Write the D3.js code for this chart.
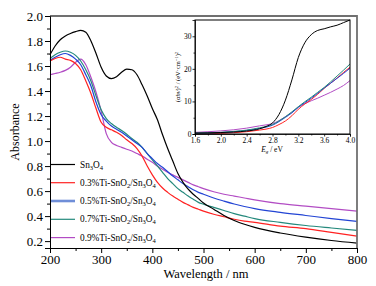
<!DOCTYPE html>
<html>
<head>
<meta charset="utf-8">
<script src="https://cdn.jsdelivr.net/npm/d3@7"></script>
<style>
  body { margin: 0; background: #fff; }
</style>
</head>
<body>
<svg id="chart" width="376" height="286"></svg>
<script>
// main spectra (absorbance vs wavelength)
let wavelength = [200, 210, 220, 230, 240, 250, 260, 270, 280, 290, 300, 310, 320, 330, 340, 350, 360, 370, 380, 390,
    400, 410, 420, 430, 440, 450, 460, 470, 480, 490, 500, 520, 540, 560, 580, 600, 650, 700, 750, 800];

let absSn3O4 = [1.69, 1.76, 1.81, 1.84, 1.86, 1.875, 1.885, 1.87, 1.80, 1.70, 1.59, 1.52, 1.50, 1.515, 1.55, 1.575, 1.57, 1.53, 1.45, 1.36,
    1.26, 1.17, 1.05, 0.94, 0.84, 0.74, 0.67, 0.615, 0.575, 0.54, 0.505, 0.455, 0.405, 0.365, 0.335, 0.31, 0.265, 0.232, 0.205, 0.184];
let abs03 = [1.64, 1.66, 1.67, 1.655, 1.645, 1.62, 1.57, 1.48, 1.38, 1.26, 1.15, 1.11, 1.09, 1.07, 1.045, 1.01, 0.98, 0.94, 0.88, 0.80,
    0.73, 0.67, 0.625, 0.59, 0.56, 0.535, 0.51, 0.49, 0.47, 0.455, 0.44, 0.415, 0.395, 0.375, 0.36, 0.35, 0.32, 0.30, 0.27, 0.24];
let abs05 = [1.645, 1.67, 1.69, 1.70, 1.685, 1.655, 1.61, 1.53, 1.44, 1.31, 1.21, 1.16, 1.12, 1.095, 1.07, 1.04, 1.01, 0.98, 0.95, 0.90,
    0.86, 0.82, 0.79, 0.755, 0.72, 0.69, 0.66, 0.635, 0.61, 0.59, 0.575, 0.545, 0.52, 0.497, 0.477, 0.46, 0.43, 0.405, 0.38, 0.358];
let abs07 = [1.66, 1.69, 1.71, 1.72, 1.71, 1.685, 1.64, 1.57, 1.48, 1.36, 1.25, 1.18, 1.14, 1.11, 1.085, 1.055, 1.02, 0.99, 0.95, 0.90,
    0.85, 0.80, 0.75, 0.70, 0.66, 0.62, 0.59, 0.56, 0.535, 0.51, 0.495, 0.47, 0.445, 0.42, 0.40, 0.38, 0.35, 0.325, 0.305, 0.286];
let abs09 = [1.53, 1.54, 1.55, 1.565, 1.59, 1.63, 1.655, 1.61, 1.51, 1.39, 1.24, 1.06, 0.99, 0.965, 0.95, 0.935, 0.92, 0.90, 0.88, 0.855,
    0.83, 0.80, 0.775, 0.75, 0.73, 0.71, 0.69, 0.67, 0.65, 0.635, 0.62, 0.595, 0.575, 0.56, 0.545, 0.53, 0.50, 0.48, 0.46, 0.44];

// inset: Tauc plot
let energy = [1.6, 1.8, 2.0, 2.2, 2.4, 2.6, 2.7, 2.8, 2.9, 3.0, 3.1, 3.2, 3.3, 3.4, 3.5, 3.6, 3.7, 3.8, 3.9, 4.0];
let taucSn3O4 = [0.3, 0.35, 0.45, 0.6, 0.9, 1.6, 2.3, 3.4, 6.0, 10.4, 16.6, 23.5, 28, 30.5, 31.8, 32.3, 32.9, 33.4, 34.2, 35];
let tauc03 = [0.05, 0.1, 0.2, 0.4, 0.7, 1.2, 1.5, 2.0, 2.9, 4.0, 5.6, 7.6, 9.2, 10.6, 12.2, 14.0, 15.6, 17.2, 18.9, 20.5];
let tauc05 = [0.2, 0.3, 0.45, 0.7, 1.1, 1.7, 2.1, 2.7, 3.8, 5.1, 6.5, 8.2, 9.6, 11.0, 12.5, 14.1, 15.6, 17.1, 18.6, 20.2];
let tauc07 = [0.25, 0.35, 0.5, 0.8, 1.2, 1.9, 2.3, 2.9, 4.0, 5.3, 6.8, 8.4, 9.9, 11.3, 12.8, 14.3, 16.0, 17.8, 19.6, 21.5];
let tauc09 = [0.5, 0.7, 0.95, 1.3, 1.8, 2.5, 2.8, 3.2, 4.1, 5.3, 6.6, 8.2, 9.3, 10.2, 11.0, 11.9, 12.8, 13.8, 14.9, 16.4];

let colors = ['#000000', '#ff2222', '#2244d4', '#24897c', '#b24cc4'];
const SERIF = 'Liberation Serif';

let mainSeries = [absSn3O4, abs03, abs05, abs07, abs09];
let insetSeries = [taucSn3O4, tauc03, tauc05, tauc07, tauc09];

let svg = d3.select('#chart');

// ---- main plot ----
let x = d3.scaleLinear().domain([200, 800]).range([50, 357]);
let y = d3.scaleLinear().domain([0.145, 2.0]).range([248, 16]);

let mainLine = d3.line()
    .x((d, i) => x(wavelength[i]))
    .y(d => y(d))
    .curve(d3.curveMonotoneX);

// draw bottom series first so black sits on top like the reference
svg.append('g')
    .attr('id', 'mainLines')
    .selectAll('path')
    .data([4, 3, 2, 1, 0])
    .join('path')
    .attr('d', i => mainLine(mainSeries[i]))
    .attr('fill', 'none')
    .attr('stroke', i => colors[i])
    .attr('stroke-width', 1.2);

// frame top / right (gray)
svg.append('path')
    .attr('d', `M${x(200)},${y(2.0)}H${x(800)}V${y(0.145)}`)
    .attr('fill', 'none')
    .attr('stroke', '#707070')
    .attr('stroke-width', 1.8);

svg.append('g')
    .attr('transform', `translate(0,${y(0.145)})`)
    .call(d3.axisBottom(x).tickValues(d3.range(200, 801, 100)).tickSize(5).tickPadding(2).tickFormat(d3.format('d')));
svg.append('g')
    .attr('transform', `translate(0,${y(0.145)})`)
    .call(d3.axisBottom(x).tickValues(d3.range(250, 800, 100)).tickSize(3).tickFormat(''))
    .select('.domain').remove();

svg.append('g')
    .attr('transform', `translate(${x(200)},0)`)
    .call(d3.axisLeft(y).tickValues(d3.range(0.2, 2.01, 0.2)).tickSize(5).tickPadding(2).tickFormat(d3.format('.1f')));
svg.append('g')
    .attr('transform', `translate(${x(200)},0)`)
    .call(d3.axisLeft(y).tickValues(d3.range(0.3, 2.0, 0.2)).tickSize(3).tickFormat(''))
    .select('.domain').remove();

svg.selectAll('.tick text')
    .style('font-family', SERIF)
    .attr('font-size', 13)
    .attr('fill', '#000');
svg.selectAll('.domain, .tick line').attr('stroke', '#000').attr('stroke-width', 1);

svg.append('text')
    .attr('x', 206)
    .attr('y', 278)
    .attr('text-anchor', 'middle')
    .style('font-family', SERIF)
    .attr('font-size', 12.5)
    .text('Wavelength / nm');

svg.append('text')
    .attr('transform', `translate(19,132) rotate(-90)`)
    .attr('text-anchor', 'middle')
    .style('font-family', SERIF)
    .attr('font-size', 12)
    .text('Absorbance');

// ---- legend ----
let legendY = [164.5, 182.7, 201, 219.3, 237.6];
let legend = svg.append('g').attr('id', 'legend');
legend.selectAll('line')
    .data(d3.range(5))
    .join('line')
    .attr('x1', 51).attr('x2', 75)
    .attr('y1', i => legendY[i]).attr('y2', i => legendY[i])
    .attr('stroke', i => i === 2 ? '#6f8ed8' : colors[i])
    .attr('stroke-width', i => i === 2 ? 2.6 : 1.2);

function subText(sel, parts) {
    // parts: [text, isSub, backUp]
    parts.forEach(p => {
        sel.append('tspan')
            .attr('font-size', p[1] ? 6.5 : 9.3)
            .attr('dy', p[1] ? 2 : (p[2] ? -2 : 0))
            .text(p[0]);
    });
}

let legendParts = [
    [['Sn', 0], ['3', 1], ['O', 0, 1], ['4', 1]],
    [['0.3%Ti-SnO', 0], ['2', 1], ['/Sn', 0, 1], ['3', 1], ['O', 0, 1], ['4', 1]],
    [['0.5%Ti-SnO', 0], ['2', 1], ['/Sn', 0, 1], ['3', 1], ['O', 0, 1], ['4', 1]],
    [['0.7%Ti-SnO', 0], ['2', 1], ['/Sn', 0, 1], ['3', 1], ['O', 0, 1], ['4', 1]],
    [['0.9%Ti-SnO', 0], ['2', 1], ['/Sn', 0, 1], ['3', 1], ['O', 0, 1], ['4', 1]]
];
legendParts.forEach((parts, i) => {
    let t = legend.append('text')
        .attr('x', 80)
        .attr('y', legendY[i] + 3)
        .style('font-family', SERIF)
        .attr('fill', '#000');
    subText(t, parts);
});

// ---- inset ----
let ix = d3.scaleLinear().domain([1.6, 4.0]).range([195, 350]);
let iy = d3.scaleLinear().domain([0, 35]).range([134, 20]);

let inset = svg.append('g').attr('id', 'inset');
inset.append('rect')
    .attr('x', 187).attr('y', 17)
    .attr('width', 169).attr('height', 135)
    .attr('fill', '#fff');

let insetLine = d3.line()
    .x((d, i) => ix(energy[i]))
    .y(d => iy(d))
    .curve(d3.curveMonotoneX);

inset.append('g')
    .selectAll('path')
    .data([4, 1, 2, 3, 0])
    .join('path')
    .attr('d', i => insetLine(insetSeries[i]))
    .attr('fill', 'none')
    .attr('stroke', i => colors[i])
    .attr('stroke-width', 1);

inset.append('rect')
    .attr('x', ix(1.6)).attr('y', iy(35))
    .attr('width', ix(4.0) - ix(1.6)).attr('height', iy(0) - iy(35))
    .attr('fill', 'none')
    .attr('stroke', '#000')
    .attr('stroke-width', 1);

inset.append('g')
    .attr('transform', `translate(0,${iy(0)})`)
    .call(d3.axisBottom(ix).tickValues([1.6, 2.0, 2.4, 2.8, 3.2, 3.6, 4.0]).tickSize(2.5).tickPadding(1).tickFormat(d3.format('.1f')));
inset.append('g')
    .attr('transform', `translate(0,${iy(0)})`)
    .call(d3.axisBottom(ix).tickValues([1.8, 2.2, 2.6, 3.0, 3.4, 3.8]).tickSize(1.5).tickFormat(''))
    .select('.domain').remove();
inset.append('g')
    .attr('transform', `translate(${ix(1.6)},0)`)
    .call(d3.axisLeft(iy).tickValues([0, 10, 20, 30]).tickSize(2.5).tickPadding(1));
inset.append('g')
    .attr('transform', `translate(${ix(1.6)},0)`)
    .call(d3.axisLeft(iy).tickValues([5, 15, 25]).tickSize(1.5).tickFormat(''))
    .select('.domain').remove();

inset.selectAll('.tick text')
    .style('font-family', SERIF)
    .attr('font-size', 7.5)
    .attr('fill', '#000');
inset.selectAll('.domain, .tick line').attr('stroke', '#000').attr('stroke-width', 0.8);

let ixl = inset.append('text')
    .attr('x', 272)
    .attr('y', 151.5)
    .attr('text-anchor', 'middle')
    .style('font-family', SERIF)
    .attr('font-size', 7.5)
    .attr('font-style', 'italic');
ixl.append('tspan').text('E');
ixl.append('tspan').attr('font-size', 5).attr('dy', 1.5).text('g');
ixl.append('tspan').attr('dy', -1.5).attr('font-style', 'normal').text(' / eV');

let iyl = inset.append('text')
    .attr('transform', `translate(180,77) rotate(-90)`)
    .attr('text-anchor', 'middle')
    .style('font-family', SERIF)
    .attr('font-size', 6.5);
iyl.append('tspan').text('(');
iyl.append('tspan').attr('font-style', 'italic').text('αhν');
iyl.append('tspan').text(')');
iyl.append('tspan').attr('font-size', 4.5).attr('dy', -2.5).text('2');
iyl.append('tspan').attr('dy', 2.5).text(' / (eV·cm');
iyl.append('tspan').attr('font-size', 4.5).attr('dy', -2.5).text('−1');
iyl.append('tspan').attr('dy', 2.5).text(')');
iyl.append('tspan').attr('font-size', 4.5).attr('dy', -2.5).text('2');
</script>
</body>
</html>
